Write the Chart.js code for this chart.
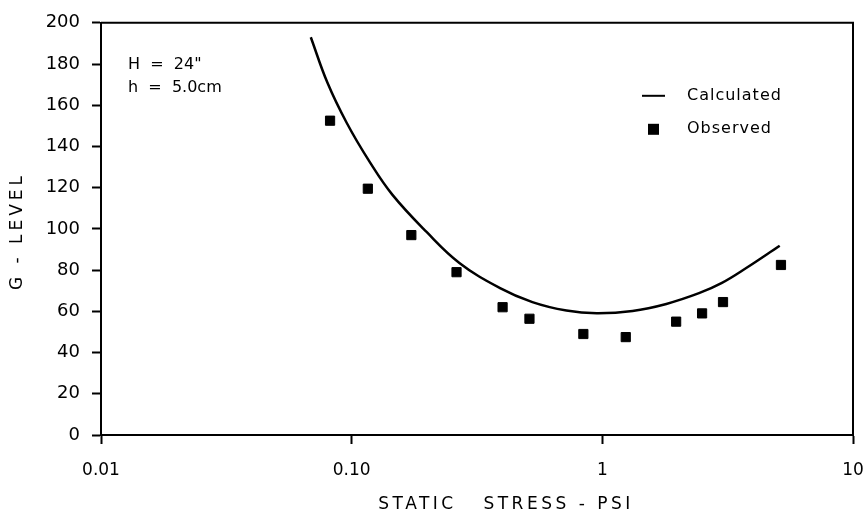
<!DOCTYPE html>
<html>
<head>
<meta charset="utf-8">
<script src="https://cdn.jsdelivr.net/npm/chart.js@4/dist/chart.umd.min.js"></script>
<style>
  html, body { margin: 0; padding: 0; background: #fff; }
  #wrap { width: 863px; height: 517px; }
</style>
</head>
<body>
<div id="wrap"><canvas id="chart"></canvas></div>
<script>
// values
const calcStress = [0.0687, 0.08, 0.0955, 0.118, 0.1455, 0.199, 0.269, 0.389, 0.526, 0.719, 0.95, 1.32, 1.8, 2.43, 3.0, 3.75, 5.1];
const calcG      = [193, 171, 151.5, 132.5, 116.5, 98.5, 83.5, 71.4, 64.5, 60.4, 59.1, 60.2, 63.6, 68.8, 73.8, 81, 91.8];

const obsStress = [0.082, 0.116, 0.173, 0.262, 0.40, 0.512, 0.84, 1.24, 1.97, 2.5, 3.03, 5.16];
const obsG      = [152.5, 119.5, 97, 79, 62, 56.4, 49, 47.5, 55, 59, 64.5, 82.5];

const xTicks = [0.01, 0.1, 1, 10];
const xTickLabels = ['0.01', '0.10', '1', '10'];
const yTicks = [0, 20, 40, 60, 80, 100, 120, 140, 160, 180, 200];

const xTitle = 'STATIC   STRESS - PSI';
const yTitle = 'G - LEVEL';
const noteLines = ['H  =  24"', 'h  =  5.0cm'];

const FONT = '"DejaVu Sans", sans-serif';

// frame, axis titles, legend and notes
const extras = {
  id: 'extras',
  afterDraw(chart) {
    const ctx = chart.ctx;
    const a = chart.chartArea;
    ctx.save();
    ctx.strokeStyle = '#000';
    ctx.lineWidth = 2;
    ctx.beginPath();
    ctx.moveTo(a.left, a.top);
    ctx.lineTo(a.right, a.top);
    ctx.lineTo(a.right, a.bottom);
    ctx.stroke();

    ctx.fillStyle = '#000';
    ctx.textBaseline = 'middle';

    // axis titles
    ctx.font = '17px ' + FONT;
    ctx.letterSpacing = '3.5px';
    ctx.textAlign = 'center';
    ctx.fillText(xTitle, 506, chart.height - 12);
    ctx.save();
    ctx.translate(18, 231);
    ctx.rotate(-Math.PI / 2);
    ctx.letterSpacing = '4px';
    ctx.fillText(yTitle, 0, 0);
    ctx.restore();

    // notes
    ctx.font = '16px ' + FONT;
    ctx.letterSpacing = '0px';
    ctx.textAlign = 'left';
    noteLines.forEach((t, i) => ctx.fillText(t, a.left + 27, a.top + 42 + i * 23));

    // legend
    const ds = chart.data.datasets;
    const lx = a.left + 541, ly = a.top + 73;
    ctx.beginPath();
    ctx.moveTo(lx, ly);
    ctx.lineTo(lx + 23, ly);
    ctx.stroke();
    ctx.fillRect(lx + 6, ly + 28, 11, 11);
    ctx.letterSpacing = '1px';
    ctx.fillText(ds[0].label, lx + 45, ly);
    ctx.fillText(ds[1].label, lx + 45, ly + 33);
    ctx.restore();
  }
};

new Chart(document.getElementById('chart'), {
  type: 'scatter',
  data: {
    datasets: [
      {
        label: 'Calculated',
        data: calcStress.map((x, i) => ({ x: x, y: calcG[i] })),
        showLine: true,
        tension: 0.4,
        borderColor: '#000',
        borderWidth: 2.5,
        pointRadius: 0
      },
      {
        label: 'Observed',
        data: obsStress.map((x, i) => ({ x: x, y: obsG[i] })),
        pointStyle: 'rect',
        pointRadius: 6.5,
        backgroundColor: '#000',
        borderColor: '#000'
      }
    ]
  },
  options: {
    responsive: true,
    maintainAspectRatio: false,
    animation: false,
    layout: { padding: { left: 6, right: 10, top: 12, bottom: 2 } },
    plugins: { legend: { display: false }, tooltip: { enabled: false } },
    scales: {
      x: {
        type: 'logarithmic',
        min: 0.01,
        max: 10,
        afterBuildTicks: s => { s.ticks = xTicks.map(v => ({ value: v })); },
        afterFit: s => { s.height = 80; s.paddingRight = 0; s.paddingLeft = 0; },
        ticks: {
          color: '#000',
          font: { family: FONT, size: 17 },
          padding: 16,
          maxRotation: 0,
          callback: (v) => xTickLabels[xTicks.indexOf(v)]
        },
        grid: { drawOnChartArea: false, tickLength: 9, tickColor: '#000', tickWidth: 2 },
        border: { color: '#000', width: 2 }
      },
      y: {
        min: 0,
        max: 200,
        afterBuildTicks: s => { s.ticks = yTicks.map(v => ({ value: v })); },
        afterFit: s => { s.width = 95; },
        ticks: {
          color: '#000',
          font: { family: FONT, size: 18 },
          padding: 12
        },
        grid: { drawOnChartArea: false, tickLength: 9, tickColor: '#000', tickWidth: 2 },
        border: { color: '#000', width: 2 }
      }
    }
  },
  plugins: [extras]
});
</script>
</body>
</html>
